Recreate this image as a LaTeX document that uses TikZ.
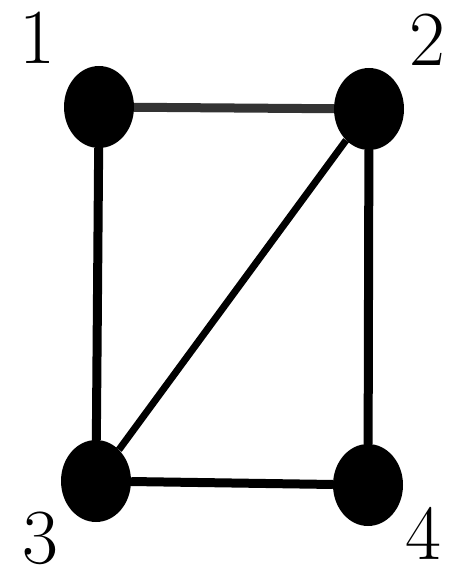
\documentclass[tikz,border=0pt]{standalone}
\usepackage{tikz}
\usetikzlibrary{positioning,shapes.geometric}

\begin{document}
\begin{tikzpicture}[x=1pt,y=-1pt]
  \tikzstyle{vertex}=[ellipse,fill=black,inner sep=0pt,
    minimum width=70pt,minimum height=82pt]
  \tikzstyle{num}=[inner sep=0pt,font=\fontsize{78}{78}\selectfont]
  \tikzstyle{edge}=[line width=9pt,color=black]
  \useasboundingbox (0,0) rectangle (459,577);
  \node[vertex] (n1) at (99,107) {};
  \node[vertex] (n2) at (369,109) {};
  \node[vertex] (n3) at (96,481) {};
  \node[vertex] (n4) at (368,485) {};
  \node[num] (l1) at (37,38) {1};
  \node[num] (l2) at (427,40) {2};
  \node[num] (l3) at (40,538) {3};
  \node[num] (l4) at (423,533) {4};
  \draw[edge,color=black!80] (n1)--(n2);
  \draw[edge] (n1)--(n3);
  \draw[edge] (n2)--(n4);
  \draw[edge,line width=7pt] (n2)--(n3);
  \draw[edge] (n3)--(n4);
\end{tikzpicture}
\end{document}
